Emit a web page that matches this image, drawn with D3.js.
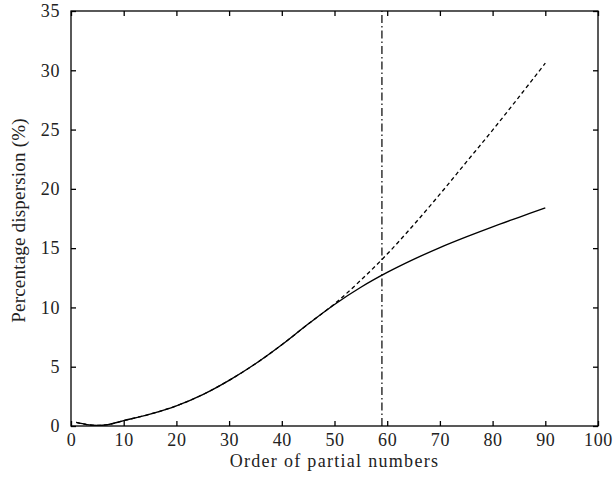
<!DOCTYPE html>
<html>
<head>
<meta charset="utf-8">
<script src="https://d3js.org/d3.v7.min.js"></script>
<style>
body { margin: 0; background: #fff; }
text { font-family: "Liberation Serif", "DejaVu Serif", serif; fill: #222; }
</style>
</head>
<body>
<script>
// values
var xs      = [1, 3, 5, 7, 10, 15, 20, 25, 30, 35, 40, 45, 50, 55, 60, 65, 70, 75, 80, 85, 90];
var solid   = [0.3, 0.12, 0.05, 0.12, 0.45, 1.0, 1.7, 2.65, 3.85, 5.25, 6.85, 8.6, 10.25, 11.7, 12.95, 14.05, 15.05, 15.95, 16.8, 17.6, 18.4];
var dashed  = [0.3, 0.12, 0.05, 0.12, 0.45, 1.0, 1.7, 2.65, 3.85, 5.25, 6.85, 8.6, 10.3, 12.3, 14.5, 16.95, 19.55, 22.25, 24.95, 27.75, 30.6];
var cutoff  = 59;
var xTicks  = [0, 10, 20, 30, 40, 50, 60, 70, 80, 90, 100];
var yTicks  = [0, 5, 10, 15, 20, 25, 30, 35];

var width = 615, height = 481;
var pLeft = 71, pRight = 598, pTop = 11, pBottom = 426;

var svg = d3.select("body").append("svg")
	.attr("width", width)
	.attr("height", height);

var x = d3.scaleLinear().domain([0, 100]).range([pLeft, pRight]);
var y = d3.scaleLinear().domain([0, 35]).range([pBottom, pTop]);

var tickLen = 5;

// frame
svg.append("rect")
	.attr("x", pLeft).attr("y", pTop)
	.attr("width", pRight - pLeft).attr("height", pBottom - pTop)
	.attr("fill", "none").attr("stroke", "#000").attr("stroke-width", 1.3);

// inner ticks on all four sides
var axes = [
	d3.axisBottom(x).tickValues(xTicks).tickSizeInner(-tickLen).tickSizeOuter(0).tickPadding(7),
	d3.axisTop(x).tickValues(xTicks).tickSizeInner(-tickLen).tickSizeOuter(0).tickFormat(""),
	d3.axisLeft(y).tickValues(yTicks).tickSizeInner(-tickLen).tickSizeOuter(0).tickPadding(11),
	d3.axisRight(y).tickValues(yTicks).tickSizeInner(-tickLen).tickSizeOuter(0).tickFormat("")
];
var shifts = ["0," + pBottom, "0," + pTop, pLeft + ",0", pRight + ",0"];

axes.forEach(function(ax, i){
	var g = svg.append("g")
		.attr("transform", "translate(" + shifts[i] + ")")
		.call(ax);
	g.select(".domain").remove();
	g.selectAll(".tick line").attr("stroke", "#000").attr("stroke-width", 1.3);
	g.selectAll(".tick text")
		.attr("font-family", "Liberation Serif, DejaVu Serif, serif")
		.attr("font-size", 18)
		.attr("letter-spacing", 0.6)
		.attr("fill", "#222");
});

var pts = function(vals){
	return xs.map(function(d, i){ return [d, vals[i]]; });
};

var line = d3.line()
	.x(function(d){ return x(d[0]); })
	.y(function(d){ return y(d[1]); })
	.curve(d3.curveCatmullRom.alpha(0.5));

svg.append("path")
	.attr("d", line(pts(dashed)))
	.attr("fill", "none")
	.attr("stroke", "#000")
	.attr("stroke-width", 1.3)
	.attr("stroke-dasharray", "4,3");

svg.append("path")
	.attr("d", line(pts(solid)))
	.attr("fill", "none")
	.attr("stroke", "#000")
	.attr("stroke-width", 1.4);

// vertical dash-dot marker
svg.append("line")
	.attr("x1", x(cutoff)).attr("x2", x(cutoff))
	.attr("y1", y(0)).attr("y2", y(35))
	.attr("stroke", "#000")
	.attr("stroke-width", 1.2)
	.attr("stroke-dasharray", "8,3,1.5,3");

// axis titles
svg.append("text")
	.attr("x", (pLeft + pRight) / 2)
	.attr("y", 467)
	.attr("text-anchor", "middle")
	.attr("font-size", 18)
	.attr("letter-spacing", 1.3)
	.text("Order of partial numbers");

svg.append("text")
	.attr("transform", "translate(25," + ((pTop + pBottom) / 2 + 2) + ") rotate(-90)")
	.attr("text-anchor", "middle")
	.attr("font-size", 19)
	.attr("letter-spacing", 0.2)
	.text("Percentage dispersion (%)");
</script>
</body>
</html>
